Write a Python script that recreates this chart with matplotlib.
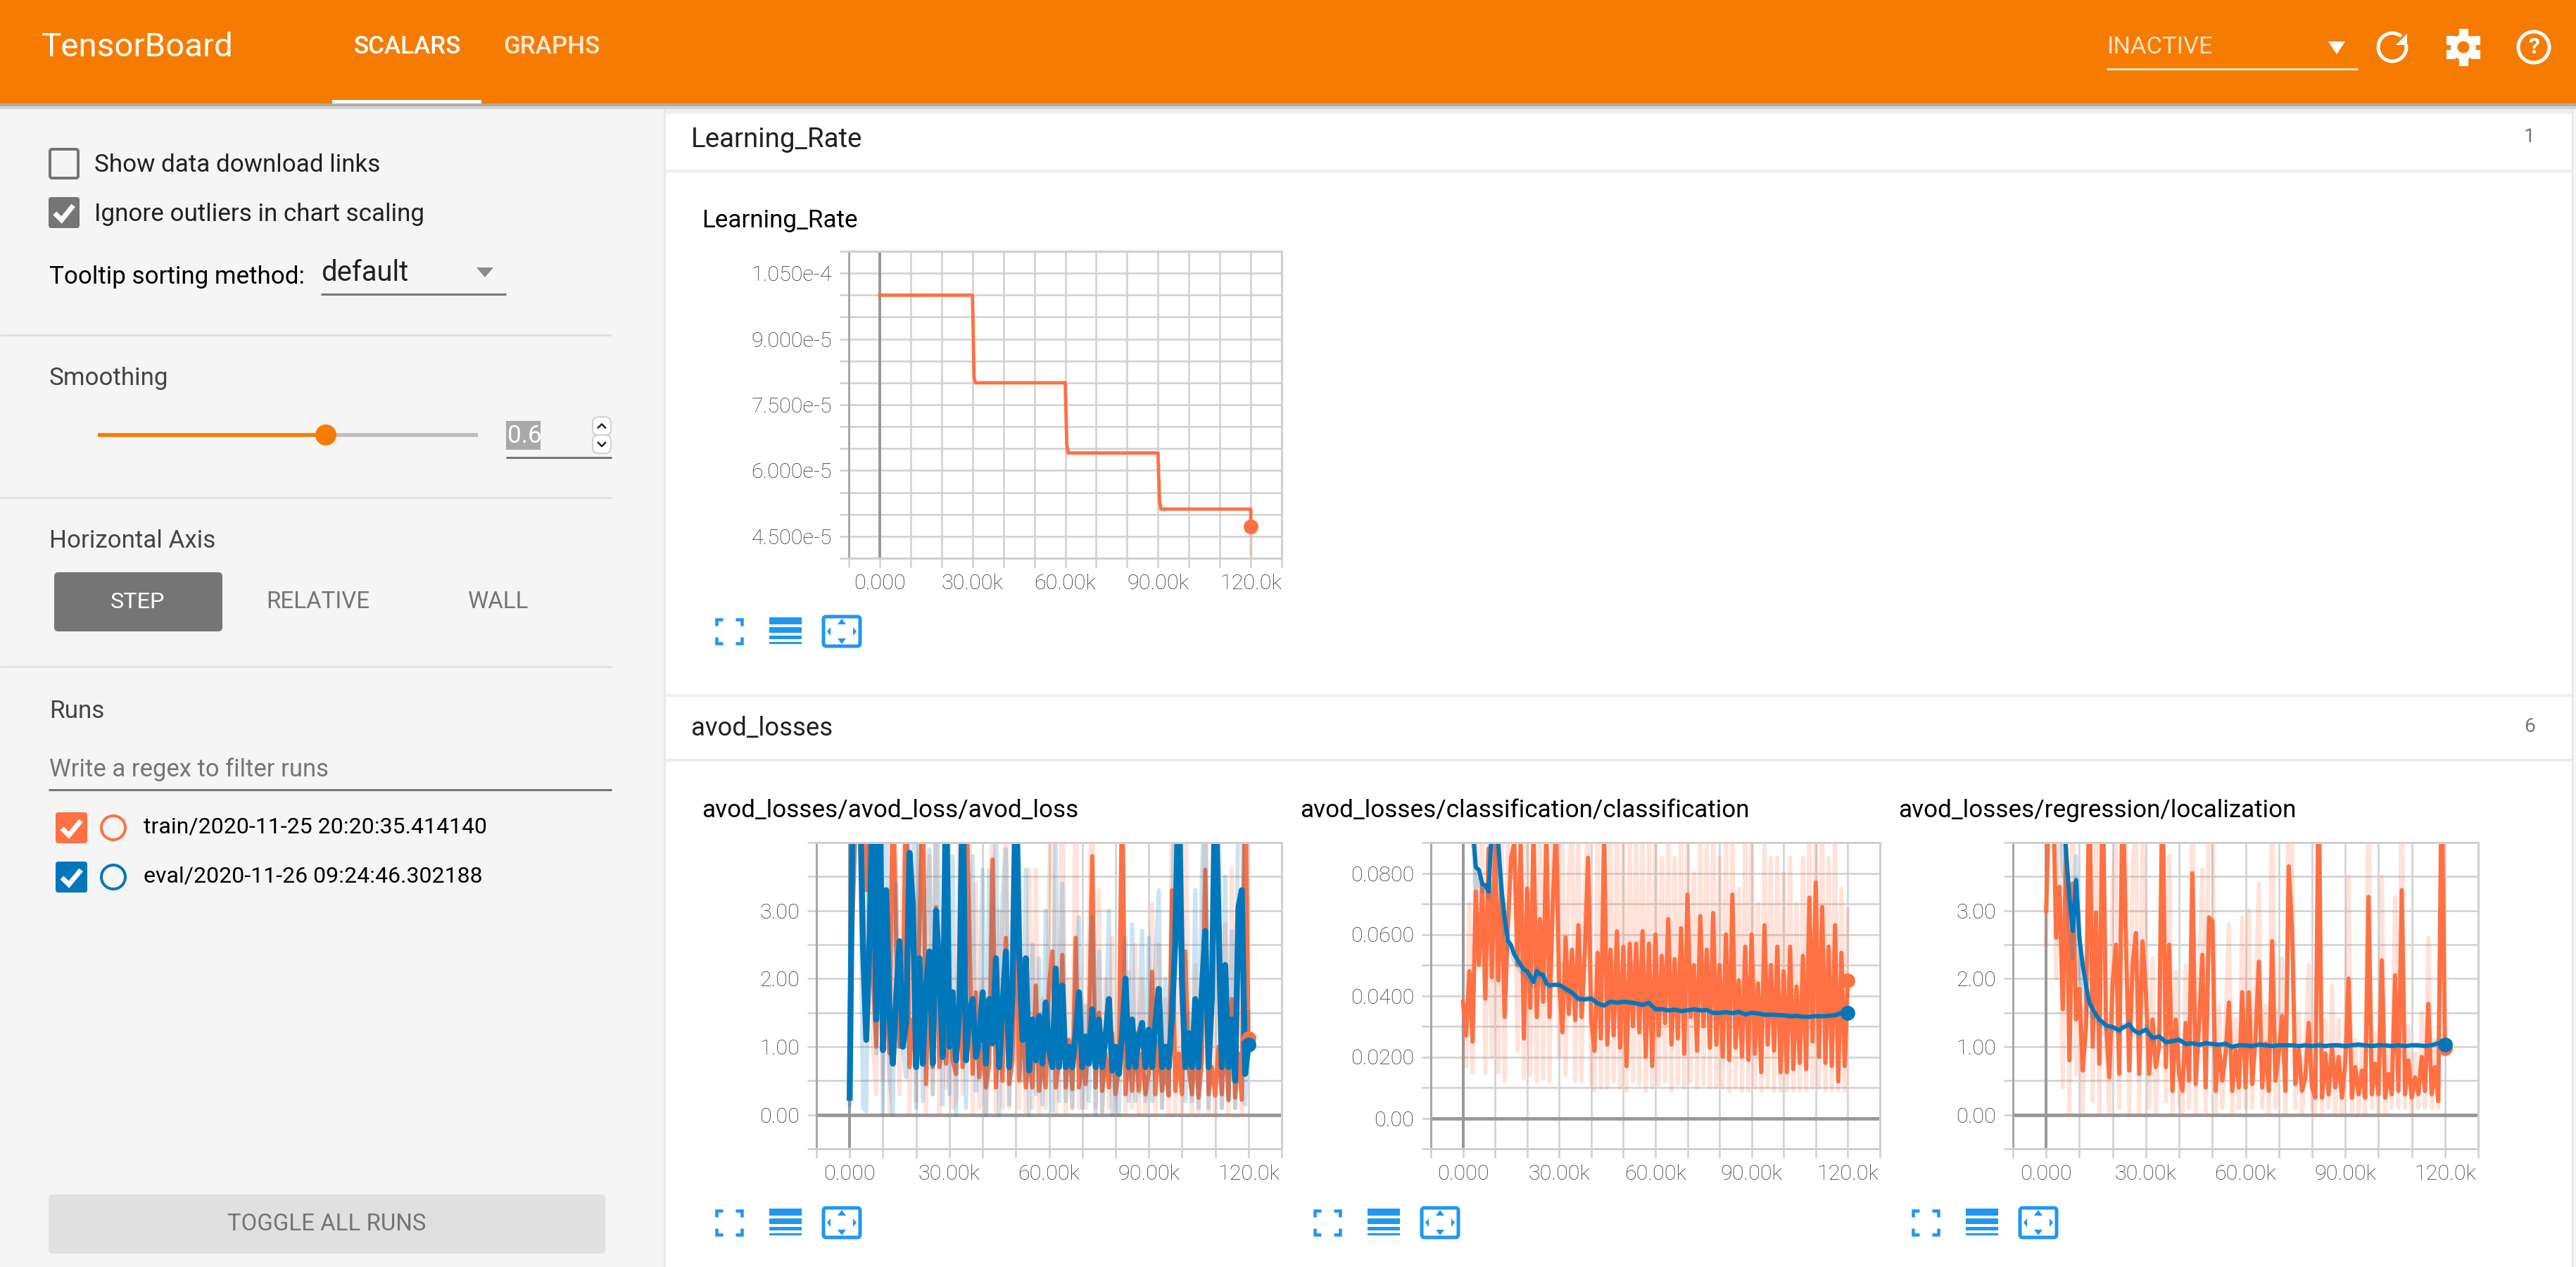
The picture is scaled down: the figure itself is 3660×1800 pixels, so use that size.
import numpy as np
import matplotlib
matplotlib.use("Agg")
import matplotlib.pyplot as plt
from matplotlib.patches import Rectangle, FancyBboxPatch, Circle, Polygon, Arc

# ---------- data ----------
TRAIN_STEPS_K = list(range(0, 121))
EVAL_STEPS_K = [2,4,5,6,7,8,9,10,11,12,13,14,15,16,17,18,19,20,
                22,23,24,25,26,27,28,
                30,32,34,36,38,40,42,44,46,48,50,52,54,56,58,60,62,64,66,68,70,72,74,76,
                78,80,82,84,86,88,90,92,94,96,98,100,102,104,106,108,110,112,114,116,118,120]

lr_steps = [0, 30000, 30500, 31000, 60000, 60500, 61000, 90000, 90500, 91000, 120000, 120000]
lr_smooth = [1e-4, 1e-4, 8.12e-5, 8e-5, 8e-5, 6.6e-5, 6.4e-5, 6.4e-5, 5.3e-5, 5.12e-5, 5.12e-5, 4.72e-5]
lr_raw = [1e-4, 1e-4, 8e-5, 8e-5, 8e-5, 6.4e-5, 6.4e-5, 6.4e-5, 5.12e-5, 5.12e-5, 5.12e-5, 4.096e-5]

avod_train = [1.5,3.1,4.6,4.2,5.0,3.3,4.4,2.0,1.0,3.6,
 1.5,1.6,0.9,5.0,2.5,1.0,1.7,5.0,0.7,1.4,
 0.8,2.7,5.0,0.45,2.4,0.7,3.05,0.7,1.2,0.75,
 1.6,0.8,0.6,1.9,0.7,5.0,2.7,0.6,1.8,0.55,
 1.0,0.4,0.75,3.75,0.4,1.3,0.5,2.6,0.45,0.8,
 3.0,0.5,1.6,0.4,0.9,0.4,1.9,0.35,0.85,0.4,
 1.9,2.4,0.4,0.8,2.35,0.4,1.1,0.38,2.6,0.4,
 0.8,0.45,1.25,3.8,0.4,1.5,0.35,0.9,0.4,1.2,
 0.3,0.7,5.0,0.3,1.0,0.35,1.2,0.35,0.9,0.3,
 0.6,2.1,0.3,1.1,0.35,0.7,0.28,3.3,0.35,0.9,
 0.3,2.4,0.7,0.3,1.0,0.25,0.8,3.6,0.3,0.7,
 0.28,1.0,0.3,1.2,0.22,1.7,0.25,0.9,0.22,5.0,1.12]
avod_train_raw = [1.0,4.6,5,5,5,2.0,5,1.0,0.3,5,
 0.5,2.8,0,5,3.4,0.3,3.5,5,0,2.4,
 0.2,5,5,0,3.8,0.3,4.5,0,2.4,0.4,
 3,0.1,0.2,4.4,0.3,5,5,0,3.4,0.1,
 2,0,0.9,5,0,3.0,0.1,5,0.1,1.6,
 3.6,0.1,2.2,0,3.6,0.1,3.6,0,1.7,0.1,
 3.4,5,0,1.6,5,0,2,0.1,5,0.1,
 1.7,0.1,2.7,5,0.1,3.3,0,2,0.1,2.6,
 0,1.2,5,0,2.1,0.1,2.5,0,2.0,0,
 1,3.1,0,2.5,0.1,1.7,0,4.6,0,2.0,
 0,5,1.2,0,2.2,0,1.6,5,0,1.6,
 0,2.5,0.1,2.8,0,3.6,0.1,2,0,5,1.2]
avod_eval = [0.25,5,5,5,2.5,1.1,2.6,5,1.4,5,
 0.95,3.3,1.45,0.75,1.75,2.55,1.0,1.35,3.85,3.1,
 0.7,2.3,0.75,1.9,2.4,0.75,3.0,2.1,0.85,5.0,
 1.0,1.8,0.8,1.5,5.0,0.8,1.5,1.7,0.85,1.1,
 1.8,0.75,1.7,1.05,2.3,0.7,1.6,2.4,0.7,1.8,
 5.0,2.4,1.1,2.3,0.65,1.4,0.8,1.45,0.75,1.65,
 0.95,0.7,2.15,0.7,1.9,0.7,1.0,0.7,1.2,1.8,
 0.7,1.15,0.75,1.55,0.7,1.4,0.7,1.15,1.7,0.65,
 1.0,0.6,1.2,2.0,0.7,1.4,0.7,1.15,1.35,0.7,
 1.25,0.7,1.35,1.85,0.7,1.0,0.7,1.45,2.55,5.0,
 1.95,0.7,1.2,0.7,1.7,0.7,1.85,2.7,0.7,1.7,
 5.0,2.85,0.7,2.2,0.7,1.4,0.5,3.05,3.3,0.6,1.03]
avod_eval_raw = [0.15,5,5,5,0.1,0.05,5,5,0.9,5,
 0,5,0.6,0,3.4,1.0,1.0,0.55,5,5,
 0.1,4.1,0.2,3,3.9,0.3,5,3,0.15,5,
 0.3,3.8,0,2.4,5,0.1,2.6,3.8,0.35,0.9,
 3.6,0,3.6,1.1,4.6,0,3.2,3.9,0.15,3.1,
 5,3.7,0.5,3.6,0,2.5,0.3,2.3,0.15,3.0,
 1.2,0.05,4.0,0.2,3.4,0.2,0.9,0.1,1.9,2.9,
 0.1,1.6,0.2,2.9,0,2.4,0.05,1.1,3.0,0,
 0.9,0,1.5,2.6,0.2,2.8,0.2,1.2,2.7,0.2,
 2.6,0.2,2.2,3.3,0.1,2.0,0.3,2.8,5,5,
 3.3,0.2,1.5,0.2,3.3,0.1,3.5,5,0.1,3.0,
 5,5,0.1,3.5,0.2,2.7,0.1,5,5,0.15,1.5]

cls_train_milli = [38,27,48,25,74,50,76,39,88,46,
 90,45,76,33,62,85,90,50,90,26,
 75,36,95,33,65,38,95,33,70,95,
 44,28,59,34,55,32,63,33,54,85,
 32,22,54,26,95,24,55,27,61,23,
 56,17,57,30,57,28,61,20,57,17,
 60,27,53,31,65,24,52,26,62,21,
 73,33,50,22,66,30,55,23,67,24,
 50,20,60,19,73,23,45,20,56,19,
 60,21,44,15,63,24,50,22,56,15,
 48,15,56,16,43,18,53,16,72,25,
 77,20,69,18,56,17,63,12,54,17,45]
cls_train_raw_milli = [30,17,70,15,95,60,95,15,95,20,
 95,15,95,12,95,95,95,22,95,13,
 95,14,95,12,95,13,95,12,95,95,
 20,90,14,80,95,12,95,12,75,95,
 12,9,95,10,95,10,90,12,95,10,
 90,9,95,12,95,11,95,9,90,10,
 95,11,85,12,95,9,85,11,95,10,
 95,12,80,10,95,11,90,10,95,10,
 85,10,95,9,95,10,75,9,95,9,
 95,10,70,9,90,10,85,9,85,9,
 80,9,85,9,70,9,85,9,95,10,
 95,10,95,9,85,9,95,9,75,9,68]
cls_eval_milli = [110,82,81,76.5,76,74,95,95,90,75,65.5,58,56.5,53.5,51.8,50,48.5,48,
 44.5,48,47,46.8,44,43.3,43.5,
 43.5,42.3,41,39,38.8,39,37.5,36.8,38,37.7,
 38,37.8,37.5,37,37.6,35.6,35.6,35.2,35.4,35,
 35.2,35.5,35.2,35.3,34.4,34.4,34.6,34.3,34.7,33.9,
 34.4,34.2,33.8,33.8,33.7,33.6,33.3,33.4,33.1,33.1,
 33.3,33.3,33.4,33.6,34.3,34.3]
cls_eval_raw_milli = [110,75,78,74,75,72,100,90,85,70,60,55,54,51,50,48,47,46,
 43,49,46,46,43,43,43.5,
 44,41.5,40.5,38.5,38.5,39.5,37,36.5,38.5,37.5,
 38.2,37.6,37.3,36.8,38,35.2,35.6,35,35.6,34.8,
 35.3,35.8,35,35.5,34,34.3,34.9,34.1,35,33.6,
 34.6,34.1,33.6,33.8,33.6,33.5,33.1,33.5,33,33,
 33.4,33.2,33.5,33.8,34.8,34.3]

loc_train = [3.0,5,5,2.6,3.35,1.55,3.9,0.8,3.4,1.4,
 1.85,0.65,1.3,5,1.0,2.97,0.75,5,1.35,0.55,
 1.95,2.5,0.6,5,2.5,0.65,2.2,2.67,0.6,2.55,
 1.8,0.6,1.4,0.7,1.0,5,0.7,2.5,0.35,1.4,
 0.6,0.35,1.35,0.5,3.55,0.45,1.3,2.35,0.4,2.9,
 2.85,0.35,1.0,0.5,0.9,1.65,0.35,0.95,0.4,1.8,
 0.4,1.8,0.45,1.1,2.25,0.4,1.05,0.35,2.55,0.5,
 0.9,1.45,0.35,3.65,2.7,0.45,0.95,0.35,0.55,1.35,
 0.4,0.25,5,0.25,0.9,0.3,1.0,0.4,0.85,0.25,
 0.75,2.0,0.25,0.7,0.3,0.65,0.25,3.2,0.3,0.75,
 0.3,2.27,0.25,0.6,0.3,2.05,0.35,3.3,0.3,0.8,
 0.25,0.55,0.3,0.85,0.35,1.63,0.3,0.7,0.2,5,0.98]
loc_train_raw = [2.5,5,5,2,5,0.4,5,0,5,0.6,
 3.0,0,2,5,0.2,5,0,5,1.0,0,
 3.4,4.1,0.1,5,3.8,0,3.7,4.1,0,4,
 2.8,0.1,2.3,0,1.5,5,0.2,3.8,0,2.1,
 0.2,0,2.2,0.1,5,0,2.0,3.6,0,5,
 5,0,1.6,0.1,1.4,2.8,0,1.4,0.1,2.9,
 0.1,3.0,0.1,1.7,3.4,0.1,1.6,0,5,0.1,
 1.4,2.3,0,5,4.0,0.1,1.5,0,0.9,2.2,
 0.1,0,5,0,1.4,0.1,1.9,0,1.4,0,
 1.1,3.5,0,1.1,0,1.0,0,5,0.1,1.2,
 0,3.5,0,1.0,0.1,3.2,0.1,5,0.1,1.3,
 0,0.9,0.1,1.5,0.1,2.6,0.1,1.1,0.1,5,1.0]
loc_eval = [8,6,4.6,3.85,3.2,2.7,3.45,2.6,2.2,1.9,1.65,1.55,1.47,1.4,1.36,1.31,1.3,1.29,
 1.24,1.28,1.3,1.33,1.26,1.22,1.2,
 1.25,1.13,1.15,1.07,1.08,1.1,1.04,1.05,1.03,1.05,
 1.04,1.03,1.04,1.0,1.02,1.02,1.01,1.03,1.02,1.01,
 1.02,1.02,1.02,1.01,1.02,1.01,1.02,1.01,1.02,1.02,
 1.01,1.02,1.03,1.02,1.01,1.02,1.02,1.01,1.02,1.01,
 1.02,1.02,1.01,1.02,1.05,1.03]
loc_eval_raw = [8,5,3.6,3.4,2.8,2.3,3.8,2.0,1.9,1.7,1.45,1.45,1.4,1.35,1.3,1.25,1.27,1.26,
 1.2,1.32,1.32,1.37,1.2,1.18,1.17,
 1.3,1.08,1.17,1.03,1.09,1.12,1.01,1.06,1.01,1.07,
 1.02,1.01,1.06,0.97,1.03,1.01,1.0,1.05,1.01,1.0,
 1.03,1.02,1.03,1.0,1.03,1.0,1.05,1.0,1.03,1.03,
 0.99,1.03,1.04,1.02,1.0,1.03,1.02,1.0,1.03,1.0,
 1.03,1.03,1.0,1.03,1.08,1.02]

X_TICK_LABELS = {0: "0.000", 30000: "30.00k", 60000: "60.00k", 90000: "90.00k", 120000: "120.0k"}
LR_TICK_LABELS = {4.5e-5: "4.500e-5", 6e-5: "6.000e-5", 7.5e-5: "7.500e-5", 9e-5: "9.000e-5", 1.05e-4: "1.050e-4"}
LOSS_TICK_LABELS = {0.0: "0.00", 1.0: "1.00", 2.0: "2.00", 3.0: "3.00"}
CLS_TICK_LABELS = {0.0: "0.00", 0.02: "0.0200", 0.04: "0.0400", 0.06: "0.0600", 0.08: "0.0800"}

# ---------- style ----------
W, H, DPI = 3660, 1800, 100
ORANGE = "#ff7043"
BLUE = "#0077bb"
HEADER = "#f57c00"
ICON = "#2196f3"
FONT = "Roboto"
plt.rcParams["font.family"] = [FONT, "DejaVu Sans"]

def fs(px):
    return px * 72 / DPI

fig = plt.figure(figsize=(W / DPI, H / DPI), dpi=DPI, facecolor="white")
ui = fig.add_axes([0, 0, 1, 1], zorder=0)
ui.set_xlim(0, W)
ui.set_ylim(H, 0)
ui.axis("off")

def rect(x0, y0, x1, y1, color, z=1, **kw):
    ui.add_patch(Rectangle((x0, y0), x1 - x0, y1 - y0, facecolor=color, edgecolor="none", zorder=z, **kw))

def rrect(x0, y0, x1, y1, face, edge="none", lw=0, pad=5, z=2):
    ui.add_patch(FancyBboxPatch((x0 + pad, y0 + pad), x1 - x0 - 2 * pad, y1 - y0 - 2 * pad,
                                boxstyle=f"round,pad={pad},rounding_size={pad}",
                                facecolor=face, edgecolor=edge, linewidth=lw, zorder=z))

def text(x, y, s, px, color="#212121", ha="left", weight="normal", z=5):
    ui.text(x, y + 2.5, s, fontsize=fs(px), color=color, ha=ha, va="center", fontweight=weight, zorder=z)

def seg(xs, ys, color, lw_px, z=4, **kw):
    ui.plot(xs, ys, color=color, lw=lw_px * 72 / DPI, zorder=z, solid_capstyle=kw.pop("cap", "butt"), **kw)

def tri(cx, cy, w, h, color, z=5):
    ui.add_patch(Polygon([(cx - w / 2, cy - h / 2), (cx + w / 2, cy - h / 2), (cx, cy + h / 2)],
                         closed=True, facecolor=color, edgecolor="none", zorder=z))

def check(x0, y0, x1, y1):
    w, h = x1 - x0, y1 - y0
    seg([x0 + .2 * w, x0 + .42 * w, x0 + .8 * w], [y0 + .52 * h, y0 + .74 * h, y0 + .27 * h], "white", 7,
        z=6, solid_joinstyle="miter")

# backgrounds
rect(0, 147, 943, H, "#f5f5f5", 1)
rect(943, 147, 946, H, "#e8e8e8", 1)
rect(946, 147, W, 162, "#f0f0f0", 1)
rect(3654, 147, W, H, "#f5f5f5", 1)
rect(3654, 147, 3656, H, "#e4e4e4", 2)
rect(946, 241, 3654, 245, "#ececec", 2)
rect(946, 986, 3654, 990, "#f0f0f0", 2)
rect(946, 1078, 3654, 1082, "#ececec", 2)
rect(946, 162, 3654, 241, "white", 3)
rect(946, 990, 3654, 1078, "white", 3)
rect(0, 0, W, 147, HEADER, 4)
rect(0, 147, W, 151, "#adadad", 4)
rect(0, 151, W, 155, "#d4d4d4", 4)

# header
text(59, 64, "TensorBoard", 47.5, "white")
text(579, 64, "SCALARS", 35, "white", ha="center", weight="medium")
text(784, 64, "GRAPHS", 35, "#ffe9d3", ha="center", weight="medium")
rect(472, 142, 684, 147, "white", 5)
text(2994, 64, "INACTIVE", 34.5, "#fde0c4")
seg([2993, 3350], [98, 98], "#fde0c4", 3, z=5)
tri(3320, 68, 24, 18, "white")
ui.add_patch(Arc((3399, 67), 40, 40, theta1=-10, theta2=310, edgecolor="white", linewidth=fs(5), zorder=6))
ui.add_patch(Polygon([(3420, 48), (3420, 64), (3404, 64)], closed=True, facecolor="white", zorder=6))
for i in range(6):
    a = np.deg2rad(i * 60 + 90)
    gx, gy = 3500 + 20 * np.cos(a), 67 + 20 * np.sin(a)
    ui.add_patch(Rectangle((gx - 6.5, gy - 6.5), 13, 13, angle=0, facecolor="white", edgecolor="none", zorder=6,
                           rotation_point="center"))
ui.add_patch(Circle((3500, 67), 18, facecolor="white", edgecolor="none", zorder=6))
ui.add_patch(Circle((3500, 67), 8.5, facecolor=HEADER, edgecolor="none", zorder=7))
ui.add_patch(Circle((3600, 67), 22, facecolor="none", edgecolor="white", linewidth=fs(5), zorder=6))
text(3600, 64, "?", 32, "white", ha="center", weight="bold", z=7)

# sidebar
rrect(71, 212, 111, 253, "none", "#757575", fs(4), pad=3)
text(134, 232, "Show data download links", 35)
rrect(69, 280, 113, 324, "#757575", pad=4)
check(69, 280, 113, 324)
text(134, 302, "Ignore outliers in chart scaling", 35)
text(70, 391, "Tooltip sorting method:", 35, "black")
text(456, 385, "default", 40, "#212121")
tri(689, 387, 24, 14, "#8c8c8c")
seg([456, 719], [418, 418], "#757575", 3)
seg([0, 869], [475.5, 475.5], "#dddddd", 2.5)
text(70, 535, "Smoothing", 35, "#444444")
seg([463, 679], [618, 618], "#bdbdbd", 5.5)
seg([139, 463], [618, 618], HEADER, 5.5)
ui.add_patch(Circle((463, 618), 15, facecolor=HEADER, edgecolor="none", zorder=5))
rect(719, 598, 768, 639, "#a9a9a9", 2)
text(721, 617, "0.6", 35, "white")
seg([719, 869], [650, 650], "#757575", 3)
for sy, d in ((605.5, -1), (631, 1)):
    rrect(842, sy - 13, 868, sy + 13, "white", "#c8c8c8", 1.2, pad=8)
    seg([849, 855, 861], [sy - 3 * d, sy + 3 * d, sy - 3 * d], "#222222", 2.5, z=6)
seg([0, 869], [707, 707], "#dddddd", 2.5)
text(70, 766, "Horizontal Axis", 35, "#444444")
rrect(77, 813, 316, 897, "#757575", pad=6)
text(196, 853, "STEP", 32.5, "white", ha="center")
text(452, 853, "RELATIVE", 33, "#757575", ha="center")
text(707, 853, "WALL", 33, "#757575", ha="center")
seg([0, 869], [947, 947], "#dddddd", 2.5)
text(70, 1008, "Runs", 35, "#444444")
text(70, 1091, "Write a regex to filter runs", 34.6, "#757575")
seg([69, 869], [1122, 1122], "#757575", 3)
rrect(79, 1154, 124, 1198, ORANGE, pad=4)
check(79, 1154, 124, 1198)
ui.add_patch(Circle((161, 1176), 17, facecolor="none", edgecolor=ORANGE, linewidth=fs(4), zorder=5))
text(204, 1173, "train/2020-11-25 20:20:35.414140", 32, "black")
rrect(79, 1224, 124, 1268, BLUE, pad=4)
check(79, 1224, 124, 1268)
ui.add_patch(Circle((161, 1246), 17, facecolor="none", edgecolor=BLUE, linewidth=fs(4), zorder=5))
text(204, 1243, "eval/2020-11-26 09:24:46.302188", 32, "black")
rrect(69, 1697, 860, 1781, "#e0e0e0", pad=6)
text(464, 1736, "TOGGLE ALL RUNS", 33, "#757575", ha="center")

# section cards
text(982, 196, "Learning_Rate", 38.5, "#212121")
text(3594, 192, "1", 28, "#777777", ha="center")
text(982, 1032, "avod_losses", 36.5, "#212121")
text(3594, 1030, "6", 28, "#777777", ha="center")

def icons(x0, y):
    # fullscreen
    cx, a, b, c = x0, 18, 17, 9
    for sx in (-1, 1):
        for sy in (-1, 1):
            seg([cx + sx * a, cx + sx * a, cx + sx * (a - c)], [y + sy * (b - c), y + sy * b, y + sy * b],
                ICON, 4.5, solid_joinstyle="miter")
    # list
    cx = x0 + 80
    for yy, h in ((-20, 10), (-6, 7.5), (6, 5), (15, 3)):
        rect(cx - 23, y + yy, cx + 23, y + yy + h, ICON, 4)
    # fit
    cx = x0 + 160
    rrect(cx - 26, y - 21, cx + 26, y + 21, "white", ICON, fs(5), pad=4)
    t = [((0, -18), (-6, -10), (6, -10)), ((0, 18), (-6, 10), (6, 10)),
         ((-21, 0), (-16, -6), (-16, 6)), ((21, 0), (16, -6), (16, 6))]
    for pts in t:
        ui.add_patch(Polygon([(cx + p, y + q) for p, q in pts], closed=True, facecolor=ICON, zorder=5))

def chart(box, title, title_x, title_y, ylim, yminor, ylabels, zero_h, series, icon_x, icon_y, lw=6.0):
    l, r, t, b = box
    ax = fig.add_axes([l / W, 1 - b / H, (r - l) / W, (b - t) / H], zorder=3)
    ax.patch.set_alpha(0)
    ax.set_xlim(-10000, 130000)
    ax.set_ylim(*ylim)
    ax.set_axisbelow(True)
    xt = list(range(-10000, 130001, 10000))
    ax.set_xticks(xt)
    ax.set_xticklabels([X_TICK_LABELS.get(v, "") for v in xt])
    ax.set_yticks(yminor)
    lab = {round(k, 9): v for k, v in ylabels.items()}
    ax.set_yticklabels([lab.get(round(float(v), 9), "") for v in yminor])
    ax.grid(True, color="#d2d2d2", lw=fs(2.6))
    ax.tick_params(axis="both", length=fs(13), width=fs(2.5), color="#cfcfcf",
                   labelsize=fs(30.5), labelcolor="#2e2e2e")
    ax.tick_params(axis="x", pad=fs(9))
    ax.tick_params(axis="y", pad=fs(11))
    for lbl in ax.get_xticklabels() + ax.get_yticklabels():
        lbl.set_fontweight("light")
    for s in ("top", "right", "bottom"):
        ax.spines[s].set_color("#cfcfcf")
        ax.spines[s].set_linewidth(fs(3))
    ax.spines["left"].set_color("#a8a8a8")
    ax.spines["left"].set_linewidth(fs(3))
    ax.axvline(0, color="#999999", lw=fs(4), zorder=1.5)
    if zero_h:
        ax.axhline(0, color="#999999", lw=fs(5), zorder=1.5)
    for xs, ys, color, alpha in series:
        width = lw + 2.4 if (color == BLUE and title.endswith("avod_loss") and alpha == 1) else lw
        ax.plot(xs, ys, color=color, alpha=alpha, lw=fs(width), solid_joinstyle="round", zorder=2)
    for xs, ys, color, alpha in series:
        if alpha == 1:
            ax.plot(xs[-1], ys[-1], "o", color=color, ms=fs(21), mew=0, clip_on=False, zorder=3)
    text(title_x, title_y, title, 35, "black")
    icons(icon_x, icon_y)
    return ax

kx = np.array(TRAIN_STEPS_K) * 1000
ex = np.array(EVAL_STEPS_K) * 1000
LOSS_GRID = [-0.5, 0, 0.5, 1, 1.5, 2, 2.5, 3, 3.5, 4]
CLS_GRID = [-0.01, 0, 0.01, 0.02, 0.03, 0.04, 0.05, 0.06, 0.07, 0.08, 0.09]
LR_GRID = [4e-5, 4.5e-5, 5e-5, 5.5e-5, 6e-5, 6.5e-5, 7e-5, 7.5e-5, 8e-5, 8.5e-5, 9e-5, 9.5e-5, 1e-4, 1.05e-4, 1.1e-4]

chart((1206, 1821, 357, 793), "Learning_Rate", 997, 311, (4e-5, 1.1e-4), LR_GRID, LR_TICK_LABELS, False,
      [(lr_steps, lr_raw, ORANGE, 0.2), (lr_steps, lr_smooth, ORANGE, 1)], 1036, 897, lw=4.7)
chart((1160, 1821, 1197, 1632), "avod_losses/avod_loss/avod_loss", 997, 1149, (-0.5, 4), LOSS_GRID, LOSS_TICK_LABELS, True,
      [(kx, avod_train_raw, ORANGE, 0.2), (kx, avod_train, ORANGE, 1),
       (kx, avod_eval_raw, BLUE, 0.2), (kx, avod_eval, BLUE, 1)], 1036, 1737)
chart((2033, 2671, 1197, 1632), "avod_losses/classification/classification", 1847, 1149, (-0.01, 0.09), CLS_GRID, CLS_TICK_LABELS, True,
      [(kx, np.array(cls_train_raw_milli) / 1000, ORANGE, 0.2), (kx, np.array(cls_train_milli) / 1000, ORANGE, 1),
       (ex, np.array(cls_eval_raw_milli) / 1000, BLUE, 0.2), (ex, np.array(cls_eval_milli) / 1000, BLUE, 1)], 1886, 1737)
chart((2860, 3521, 1197, 1632), "avod_losses/regression/localization", 2697, 1149, (-0.5, 4), LOSS_GRID, LOSS_TICK_LABELS, True,
      [(kx, loc_train_raw, ORANGE, 0.2), (kx, loc_train, ORANGE, 1),
       (ex, loc_eval_raw, BLUE, 0.2), (ex, loc_eval, BLUE, 1)], 2736, 1737)

fig.savefig("out.png", dpi=DPI, facecolor="white")
